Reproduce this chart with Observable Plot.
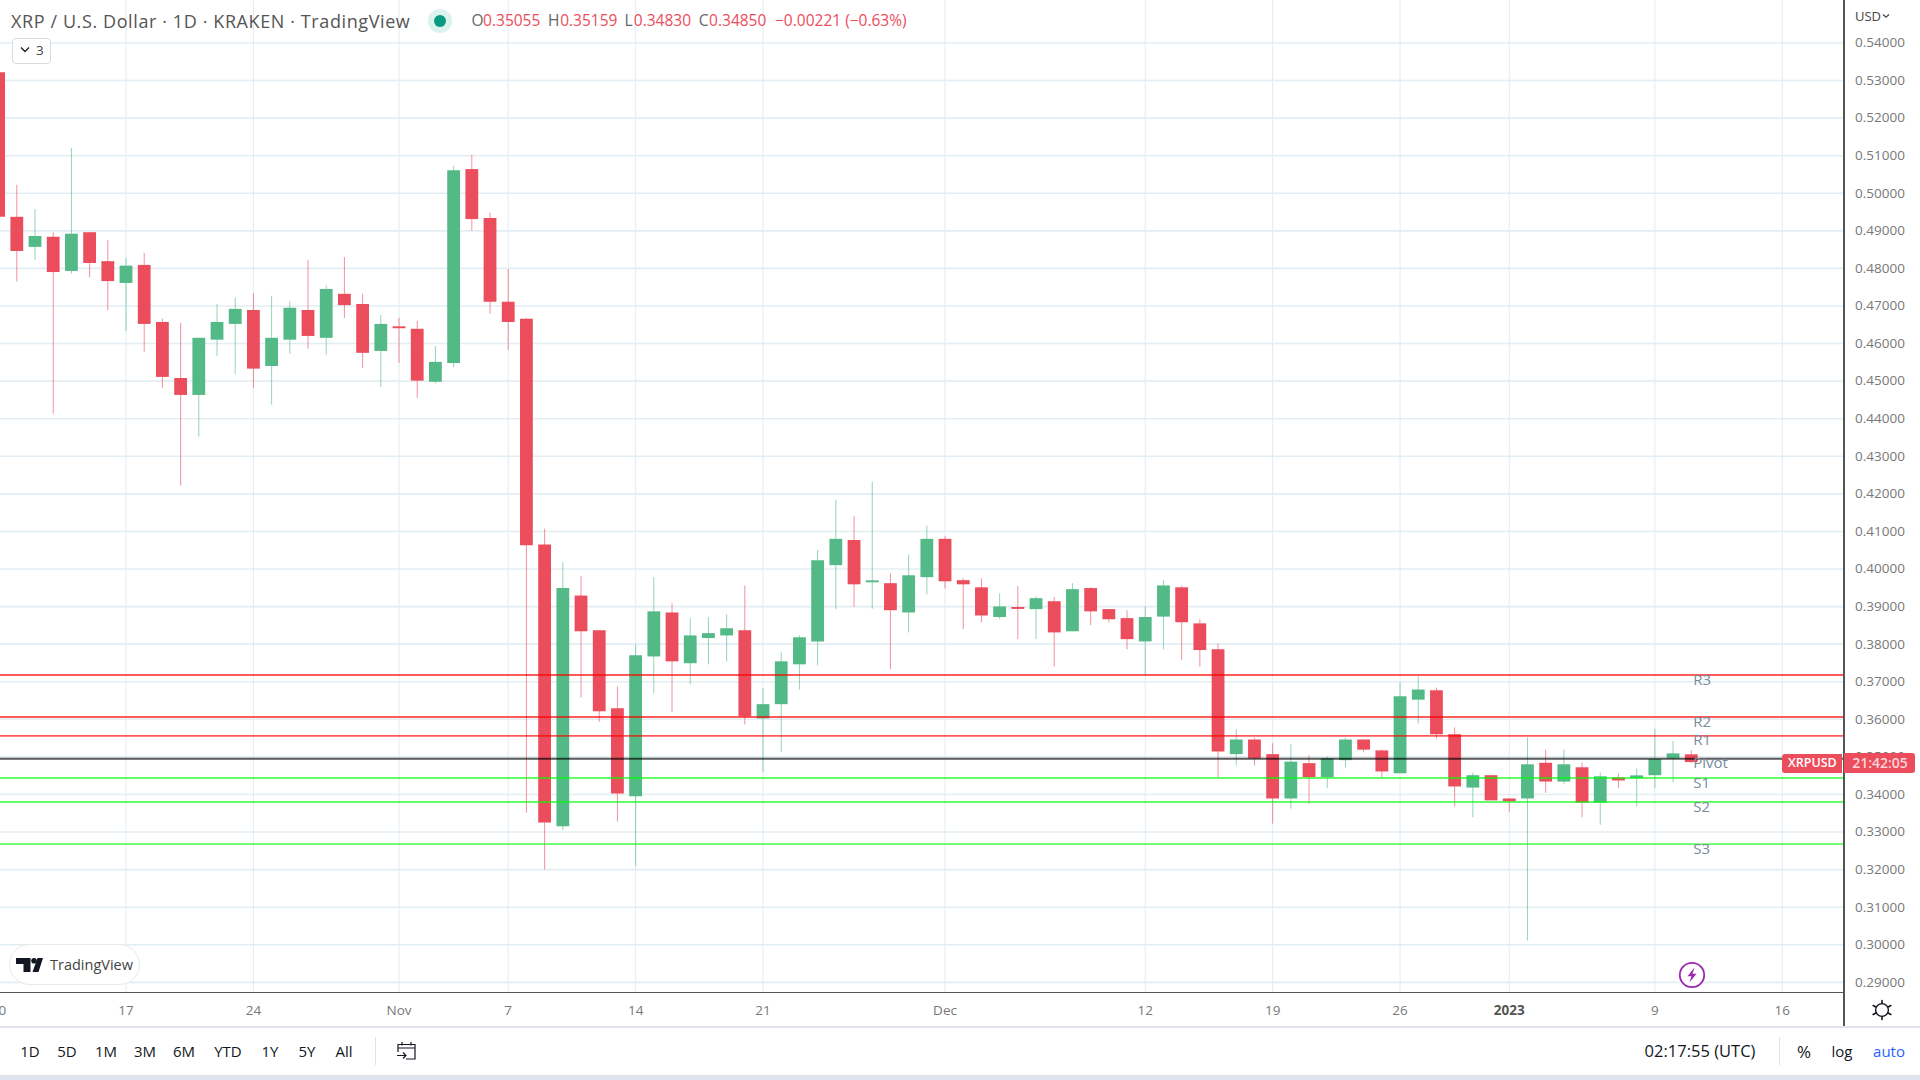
<!DOCTYPE html>
<html>
<head>
<meta charset="utf-8">
<script src="https://cdn.jsdelivr.net/npm/d3@7"></script>
<script src="https://cdn.jsdelivr.net/npm/@observablehq/plot@0.6"></script>
<style>
html,body{margin:0;padding:0;background:#fff;width:1920px;height:1080px;overflow:hidden;font-family:"Open Sans",sans-serif}
#root{position:relative;width:1920px;height:1080px}
#root>svg{position:absolute;left:0;top:0}
.t{position:absolute;white-space:nowrap;line-height:1}
.box{position:absolute;box-sizing:border-box}
.box svg{display:block}
</style>
</head>
<body>
<div id="root"></div>
<script>
const opens=[.5321,.4936,.4856,.4883,.4792,.4895,.4818,.4760,.4808,.4656,.4507,.4462,.4609,.4651,.4688,.4539,.4609,.4688,.4614,.4731,.4704,.4579,.4643,.4638,.4497,.4547,.5063,.4933,.4710,.4665,.4064,.3314,.3928,.3836,.3628,.3394,.3766,.3883,.3748,.3815,.3822,.3836,.3601,.3639,.3745,.3806,.4009,.4076,.3964,.3961,.3883,.3977,.4079,.3969,.3950,.3871,.3897,.3892,.3913,.3833,.3948,.3892,.3868,.3806,.3872,.3950,.3854,.3785,.3506,.3545,.3506,.3388,.3482,.3445,.3490,.3545,.3516,.3455,.3651,.3676,.3559,.3417,.3450,.3388,.3388,.3483,.3433,.3471,.3377,.3444,.3442,.3450,.3495,.35055];
const closes=[.4936,.4845,.4885,.4789,.4891,.4813,.4765,.4806,.4651,.4510,.4462,.4614,.4656,.4691,.4532,.4614,.4694,.4619,.4744,.4701,.4574,.4651,.4642,.4500,.4550,.5060,.4930,.4710,.4656,.4062,.3324,.3948,.3833,.3620,.3401,.3769,.3886,.3753,.3822,.3828,.3841,.3607,.3639,.3753,.3817,.4022,.4079,.3958,.3966,.3889,.3982,.4079,.3966,.3958,.3875,.3899,.3895,.3921,.3830,.3945,.3886,.3865,.3812,.3871,.3955,.3857,.3783,.3513,.3545,.3495,.3388,.3486,.3445,.3495,.3545,.3518,.3460,.3660,.3678,.3559,.3420,.3450,.3383,.3383,.3479,.3433,.3479,.3377,.3447,.3436,.3447,.3493,.3508,.34850];
const highs=[.5330,.5021,.4957,.4895,.5119,.4895,.4874,.4826,.4840,.4665,.4654,.4614,.4704,.4721,.4733,.4726,.4711,.4821,.4753,.4829,.4731,.4675,.4667,.4659,.4592,.5071,.5101,.4947,.4797,.4667,.4106,.4017,.3980,.3836,.3686,.3798,.3977,.3907,.3868,.3871,.3878,.3955,.3682,.3777,.3822,.4049,.4183,.4139,.4231,.3987,.4038,.4114,.4086,.3974,.3974,.3934,.3953,.3926,.3924,.3961,.3950,.3892,.3889,.3899,.3969,.3955,.3865,.3801,.3572,.3550,.3535,.3532,.3503,.3500,.3550,.3545,.3518,.3697,.3713,.3683,.3577,.3457,.3450,.3388,.3550,.3518,.3518,.3483,.3457,.3454,.3468,.3574,.3541,.35159];
const lows=[.4936,.4764,.4821,.4412,.4785,.4775,.4688,.4632,.4577,.4481,.4221,.4351,.4566,.4518,.4481,.4436,.4571,.4585,.4569,.4667,.4534,.4483,.4547,.4454,.4493,.4536,.4899,.4678,.4582,.3350,.3199,.3303,.3657,.3592,.3327,.3209,.3668,.3617,.3692,.3745,.3753,.3585,.3459,.3511,.3678,.3742,.3892,.3898,.3893,.3732,.3830,.3931,.3947,.3839,.3857,.3865,.3812,.3812,.3739,.3833,.3849,.3857,.3785,.3716,.3785,.3756,.3739,.3444,.3476,.3476,.3321,.3361,.3374,.3415,.3471,.3511,.3444,.3455,.3588,.3548,.3367,.3338,.3383,.3353,.3010,.3403,.3426,.3338,.3318,.3415,.3367,.3415,.3431,.34830];
const firstDay=new Date(Date.UTC(2022,9,10));
const days=d3.utcDay.range(firstDay,new Date(Date.UTC(2023,0,12)));

const levelNames=["R3","R2","R1","Pivot","S1","S2","S3"];
const levelValues=[.3718,.3606,.3556,.3495,.3444,.3380,.3268];
const levelColors=["rgba(255,0,0,.65)","rgba(255,0,0,.65)","rgba(255,0,0,.65)","rgba(0,0,0,.65)","rgba(0,255,0,.62)","rgba(0,255,0,.62)","rgba(0,255,0,.62)"];

const priceTicks=d3.range(29,55).map(v=>v/100);
const timeTicks=[[2022,9,10],[2022,9,17],[2022,9,24],[2022,10,1],[2022,10,7],[2022,10,14],[2022,10,21],[2022,11,1],[2022,11,12],[2022,11,19],[2022,11,26],[2023,0,9],[2023,0,16]].map(a=>new Date(Date.UTC(...a)));
const timeLabels=["10","17","24","Nov","7","14","21","Dec","12","19","26","9","16"];
const yearTick=[new Date(Date.UTC(2023,0,1))];
const yearLabel="2023";

const GREEN="#53b987",RED="#eb4d5c",GRID="#e3edf4",FONT='"Open Sans",sans-serif';
const candles=days.map((d,i)=>({d,o:opens[i],h:highs[i],l:lows[i],c:closes[i],up:closes[i]>=opens[i]}));
const levels=levelNames.map((n,i)=>({n,v:levelValues[i],c:levelColors[i]}));

const chart=Plot.plot({
  width:1920,height:1080,
  marginTop:0,marginLeft:0,marginRight:76.5,marginBottom:88,
  style:{fontFamily:FONT,background:"transparent",overflow:"visible"},
  x:{type:"utc",domain:[new Date(Date.UTC(2022,9,10,2,30)),new Date(Date.UTC(2023,0,19,9,24))],axis:null},
  y:{domain:[.2873,.5513],axis:null},
  marks:[
    Plot.ruleY(priceTicks,{stroke:GRID,strokeWidth:1.6}),
    Plot.ruleX([...timeTicks.slice(1),...yearTick],{stroke:GRID,strokeWidth:1.1}),
    Plot.ruleX(candles,{x:"d",y1:"l",y2:"h",stroke:d=>d.up?GREEN:RED,strokeOpacity:.62,strokeWidth:1}),
    Plot.ruleX(candles,{x:"d",y1:d=>Math.min(d.o,d.c),y2:d=>Math.max(d.o,d.c),stroke:d=>d.up?GREEN:RED,strokeWidth:12.8}),
    Plot.ruleX(candles.filter(d=>Math.abs(d.o-d.c)<.0006),{x:"d",stroke:d=>d.up?GREEN:RED,strokeWidth:12.8,y1:d=>d.c-.00025,y2:d=>d.c+.00025}),
    Plot.ruleY(levels,{y:"v",stroke:"c",strokeWidth:1.9}),
    Plot.text(levels,{x:()=>days[days.length-1],y:"v",text:"n",dx:2,dy:4.8,textAnchor:"start",fill:"#7a8b9c",fontSize:15}),
    Plot.axisY({anchor:"right",ticks:priceTicks,tickSize:0,tickPadding:11,tickFormat:d3.format(".5f"),fontSize:13.5,color:"#787878",label:null}),
    Plot.axisX({anchor:"bottom",ticks:timeTicks,tickSize:0,tickPadding:13,tickFormat:(d,i)=>timeLabels[i],fontSize:13.5,color:"#787878",label:null}),
    Plot.axisX({anchor:"bottom",ticks:yearTick,tickSize:0,tickPadding:13,tickFormat:()=>yearLabel,fontSize:13.5,fontWeight:"bold",color:"#555",label:null})
  ]
});
const root=document.getElementById("root");
root.appendChild(chart);

function text(s,x,y,size,color,opt={}){
  const e=document.createElement("div");e.className="t";e.textContent=s;
  e.style.cssText+=`left:${x}px;top:${y}px;font-size:${size}px;color:${color};transform:translate(${opt.anchor==="middle"?"-50%":"0"},-50%);font-weight:${opt.weight||400};letter-spacing:${opt.ls||0}px`;
  root.appendChild(e);return e;
}
function box(x,y,w,h,css){
  const e=document.createElement("div");e.className="box";
  e.style.cssText+=`left:${x}px;top:${y}px;width:${w}px;height:${h}px;${css}`;
  root.appendChild(e);return e;
}
function icon(x,y,w,h,inner){
  const e=document.createElement("div");e.className="box";
  e.style.cssText+=`left:${x}px;top:${y}px;width:${w}px;height:${h}px`;
  e.innerHTML=`<svg width="${w}" height="${h}" viewBox="0 0 ${w} ${h}" xmlns="http://www.w3.org/2000/svg">${inner}</svg>`;
  root.appendChild(e);
}
// frame lines
box(0,991.5,1844,1.5,"background:#555");
box(1843,0,1.5,1027,"background:#555");
box(0,1026,1920,2,"background:#e0e3eb");
box(0,1075,1920,5,"background:#dfe3ee");
// legend
text("XRP / U.S. Dollar · 1D · KRAKEN · TradingView",11,21,18,"#555",{ls:.6});
box(428,9,24,24,"border-radius:50%;background:#dcf2ed");
box(434,15,12,12,"border-radius:50%;background:#089981");
const ohlc=[["O",471.5,11.6,"0.35055"],["H",548,12.2,"0.35159"],["L",624.6,9.2,"0.34830"],["C",698.7,10.4,"0.34850"]];
ohlc.forEach(([k,x,off,v])=>{text(k,x,21,15.5,"#666");text(v,x+off,21,15.5,RED);});
text("−0.00221 (−0.63%)",775,21,15.5,RED);
// collapse button
box(11.5,38,39,26,"border:1px solid #d9dbe3;border-radius:4px;background:#fff");
icon(18,45,14,10,'<path d="M3 2.5 L7 6.5 L11 2.5" fill="none" stroke="#222" stroke-width="1.4"/>');
text("3",36,51,13.5,"#444");
// watermark
box(9,944,131,41,"border:1.5px solid #e9e9ec;border-radius:21px;background:#fff");
icon(15,956,30,18,'<path d="M1 2H15.5V16H8.5V8H1Z M17.5 16L22.5 2H28L23.5 16Z" fill="#131722"/><circle cx="19" cy="4.8" r="2.8" fill="#131722"/>');
text("TradingView",50,965,14.5,"#444");
// lightning
icon(1678,961,28,28,'<circle cx="14" cy="14" r="12.2" fill="#fff" stroke="#9c27b0" stroke-width="1.8"/><path d="M16.5 6.5 L9.5 15.2 H13.5 L11.5 21.5 L18.5 12.8 H14.5 Z" fill="#9c27b0"/>');
// price tags
box(1782.4,753.5,60,19,`background:${RED};border-radius:3px 0 0 3px`);
text("XRPUSD",1812.4,763,12.5,"#fff",{anchor:"middle",weight:600});
box(1844.4,753,71,19.5,`background:${RED};border-radius:0 3px 3px 0`);
text("21:42:05",1880,763,14,"#fbd5d9",{anchor:"middle",weight:600});
// top axis label
text("USD",1855,16,13,"#444");
icon(1881,12,10,8,'<path d="M2 2.5 L5 5.2 L8 2.5" fill="none" stroke="#444" stroke-width="1.2"/>');
// gear
icon(1870,998,24,24,'<circle cx="12" cy="12" r="6.4" fill="none" stroke="#131722" stroke-width="1.4"/><g stroke="#131722" stroke-width="1.6" stroke-linecap="round"><path d="M12 2.5V5.5M12 18.5V21.5M3.2 7.5L5.8 9M18.2 15L20.8 16.5M3.2 16.5L5.8 15M18.2 9L20.8 7.5"/></g>');
// toolbar
const ranges=["1D","5D","1M","3M","6M","YTD","1Y","5Y","All"];
const rangeX=[30,67,106,145,184,228,270,307,344];
ranges.forEach((r,i)=>text(r,rangeX[i],1051,15,"#131722",{anchor:"middle"}));
box(375,1037,1,28,"background:#e0e3eb");
icon(396,1040,22,22,'<g fill="none" stroke="#131722" stroke-width="1.2"><path d="M2 12V4.5H19V19H10"/><path d="M2 8H19M6 2V5.5M15 2V5.5"/><path d="M1 15.5H10M7 12.5L10 15.5L7 18.5"/></g>');
text("02:17:55 (UTC)",1700,1051,16.5,"#131722",{anchor:"middle"});
box(1779,1037,1,28,"background:#e0e3eb");
text("%",1804,1051,17,"#131722",{anchor:"middle"});
text("log",1842,1051,15,"#131722",{anchor:"middle"});
text("auto",1889,1051,15,"#2962ff",{anchor:"middle"});
</script>
</body>
</html>
